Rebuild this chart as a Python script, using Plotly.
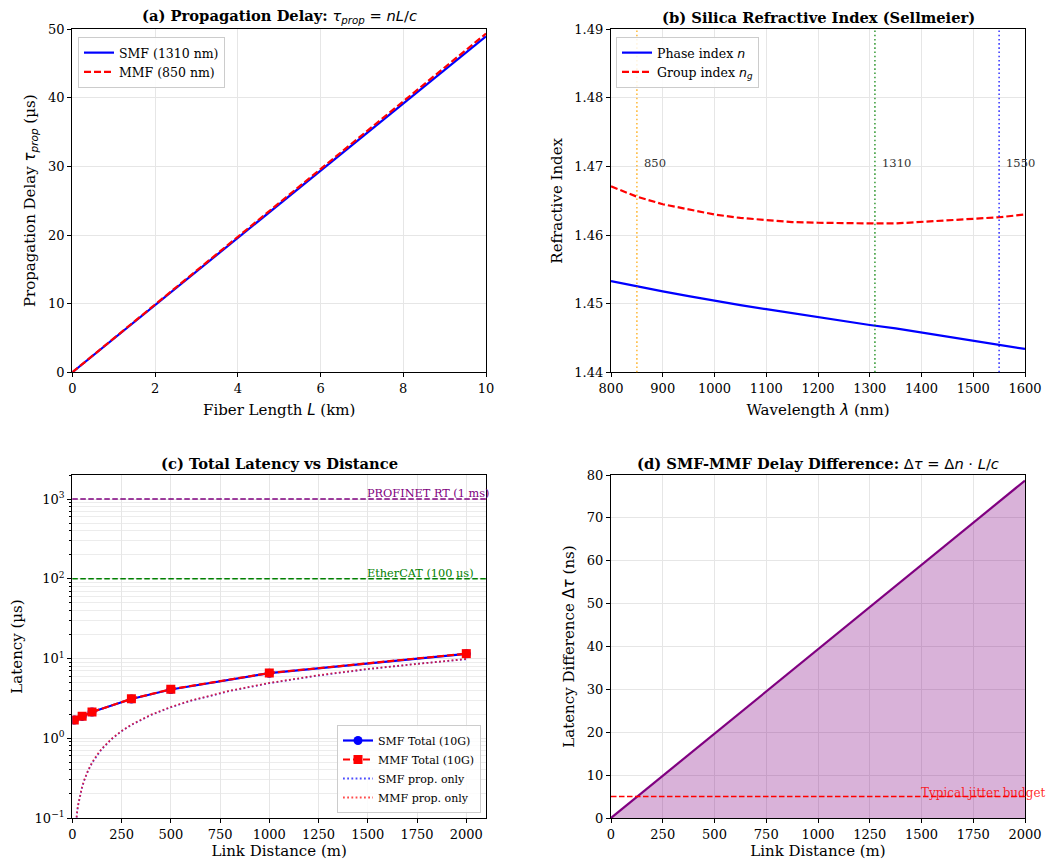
import math
import plotly.graph_objects as go

# ---------------- data ----------------
# (a) propagation delay vs fiber length
fiber_len_km = [0, 10]
smf_delay_us = [0.0, 48.97]
mmf_delay_us = [0.0, 49.37]

# (b) silica refractive index (Sellmeier)
wavelength_nm = [800, 850, 900, 950, 1000, 1050, 1100, 1150, 1200, 1250,
                 1300, 1350, 1400, 1450, 1500, 1550, 1600]
phase_index = [1.4533, 1.4525, 1.4518, 1.4511, 1.4504, 1.4498, 1.4492, 1.4486,
               1.4481, 1.4475, 1.4469, 1.4464, 1.4458, 1.4452, 1.4446, 1.4440, 1.4434]
group_index = [1.4671, 1.4656, 1.4645, 1.4637, 1.4630, 1.4625, 1.4622, 1.4619,
               1.4618, 1.4617, 1.4617, 1.4617, 1.4619, 1.4621, 1.4623, 1.4626, 1.4630]
marker_wl = [850, 1310, 1550]
marker_wl_labels = ["850", "1310", "1550"]
marker_wl_colors = ["rgba(255,165,0,0.75)", "rgba(0,128,0,0.75)", "rgba(0,0,255,0.75)"]

# (c) total latency vs distance
link_pts_m = [10, 50, 100, 300, 500, 1000, 2000]
smf_total_us = [1.69, 1.88, 2.13, 3.11, 4.09, 6.54, 11.44]
mmf_total_us = [1.69, 1.89, 2.13, 3.12, 4.11, 6.58, 11.51]
prop_dist_m = [10, 15, 20, 25, 30, 40, 50, 60, 80, 100, 125, 150, 200, 250, 300,
               400, 500, 600, 800, 1000, 1250, 1500, 1750, 2000]
smf_prop_us = [0.0490, 0.0735, 0.0980, 0.1224, 0.1469, 0.1959, 0.2449, 0.2939,
               0.3918, 0.4898, 0.6122, 0.7346, 0.9795, 1.224, 1.469, 1.959, 2.449,
               2.939, 3.918, 4.898, 6.122, 7.346, 8.571, 9.795]
mmf_prop_us = [0.0494, 0.0741, 0.0987, 0.1234, 0.1481, 0.1975, 0.2468, 0.2962,
               0.3949, 0.4937, 0.6171, 0.7405, 0.9874, 1.234, 1.481, 1.975, 2.468,
               2.962, 3.949, 4.937, 6.171, 7.405, 8.639, 9.874]
thresholds_us = [1000, 100]
threshold_labels = ["PROFINET RT (1 ms)", "EtherCAT (100 µs)"]
threshold_colors = ["purple", "green"]

# (d) SMF-MMF delay difference
diff_dist_m = [0, 2000]
diff_ns = [0.0, 78.7]
jitter_budget_ns = 5
jitter_label = "Typical jitter budget"

# ---------------- styling ----------------
SERIF = "DejaVu Serif"
SANS = "DejaVu Sans"
GRID = "#e6e6e6"
TICK_FONT = dict(family=SERIF, size=13, color="black")
LABEL_FONT = dict(family=SERIF, size=15, color="black")

# page body has an 8px margin: figure is 1040x852 drawn at (8, 8)
W, H, OFF = 1040, 852, 8


def px_x(px):
    return (px - OFF) / W


def px_y(py):
    return 1 - (py - OFF) / H


XD_L = [px_x(72.3), px_x(486)]
XD_R = [px_x(611), px_x(1025)]
YD_T = [px_y(372.3), px_y(29.3)]
YD_B = [px_y(818), px_y(475)]


def m(s):
    return f"<span style='font-family:{SANS}'>{s}</span>"


def axis(domain, anchor, title, rng, standoff, **kw):
    d = dict(domain=domain, anchor=anchor, range=rng, showline=True, mirror=True,
             linecolor="black", linewidth=1.3, ticks="outside", ticklen=4,
             tickwidth=1, tickcolor="black", showgrid=True, gridcolor=GRID,
             gridwidth=1, zeroline=False, tickfont=TICK_FONT,
             title=dict(text=title, font=LABEL_FONT, standoff=standoff),
             automargin=False)
    d.update(kw)
    return d


fig = go.Figure()

# (a)
fig.add_trace(go.Scatter(x=fiber_len_km, y=smf_delay_us, mode="lines",
                         line=dict(color="blue", width=2.2), name="SMF (1310 nm)",
                         xaxis="x", yaxis="y", legend="legend"))
fig.add_trace(go.Scatter(x=fiber_len_km, y=mmf_delay_us, mode="lines",
                         line=dict(color="red", width=2.2, dash="7px,3px"),
                         name="MMF (850 nm)", xaxis="x", yaxis="y", legend="legend"))

# (b)
fig.add_trace(go.Scatter(x=wavelength_nm, y=phase_index, mode="lines",
                         line=dict(color="blue", width=2.2),
                         name="Phase index " + m("<i>n</i>"),
                         xaxis="x2", yaxis="y2", legend="legend2"))
fig.add_trace(go.Scatter(x=wavelength_nm, y=group_index, mode="lines",
                         line=dict(color="red", width=2.2, dash="7px,3px"),
                         name="Group index " + m("<i>n</i><sub><i>g</i></sub>"),
                         xaxis="x2", yaxis="y2", legend="legend2"))

# (c)
fig.add_trace(go.Scatter(x=link_pts_m, y=smf_total_us, mode="lines+markers",
                         line=dict(color="blue", width=2.2),
                         marker=dict(symbol="circle", size=9, color="blue"),
                         name="SMF Total (10G)", xaxis="x3", yaxis="y3", legend="legend3"))
fig.add_trace(go.Scatter(x=link_pts_m, y=mmf_total_us, mode="lines+markers",
                         line=dict(color="red", width=2.2, dash="7px,3px"),
                         marker=dict(symbol="square", size=9, color="red"),
                         name="MMF Total (10G)", xaxis="x3", yaxis="y3", legend="legend3"))
fig.add_trace(go.Scatter(x=prop_dist_m, y=smf_prop_us, mode="lines",
                         line=dict(color="rgba(0,0,255,0.7)", width=1.8, dash="1.8px,2.4px"),
                         name="SMF prop. only", xaxis="x3", yaxis="y3", legend="legend3"))
fig.add_trace(go.Scatter(x=prop_dist_m, y=mmf_prop_us, mode="lines",
                         line=dict(color="rgba(255,0,0,0.7)", width=1.8, dash="1.8px,2.4px"),
                         name="MMF prop. only", xaxis="x3", yaxis="y3", legend="legend3"))

# (d)
fig.add_trace(go.Scatter(x=diff_dist_m, y=diff_ns, mode="lines", fill="tozeroy",
                         fillcolor="rgba(128,0,128,0.3)",
                         line=dict(color="purple", width=2.2), showlegend=False,
                         xaxis="x4", yaxis="y4"))

shapes = []
annotations = []

# vertical reference lines in (b)
for wl, lab, col in zip(marker_wl, marker_wl_labels, marker_wl_colors):
    shapes.append(dict(type="line", xref="x2", yref="y2 domain", x0=wl, x1=wl, y0=0, y1=1,
                       line=dict(color=col, width=1.6, dash="1.6px,2.6px"), layer="above"))
    annotations.append(dict(xref="x2", yref="y2", x=wl + 10, y=1.4705, text=lab,
                            showarrow=False, xanchor="left", yanchor="middle",
                            font=dict(family=SERIF, size=11.5, color="#333333")))

# horizontal thresholds in (c)  (annotation y on a log axis is given in log10 units)
for thr, lab, col in zip(thresholds_us, threshold_labels, threshold_colors):
    shapes.append(dict(type="line", xref="x3 domain", yref="y3", x0=0, x1=1, y0=thr, y1=thr,
                       line=dict(color=col, width=1.6, dash="5.5px,2.5px"), layer="above"))
    annotations.append(dict(xref="x3", yref="y3", x=1500, y=math.log10(thr), text=lab,
                            showarrow=False, xanchor="left", yanchor="bottom", yshift=-3,
                            xshift=-3, font=dict(family=SERIF, size=11.3, color=col)))

# jitter budget in (d)
shapes.append(dict(type="line", xref="x4 domain", yref="y4", x0=0, x1=1,
                   y0=jitter_budget_ns, y1=jitter_budget_ns,
                   line=dict(color="red", width=1.6, dash="5.5px,2.5px"), layer="above"))
annotations.append(dict(xref="x4", yref="y4", x=1500, y=jitter_budget_ns, text=jitter_label,
                        showarrow=False, xanchor="left", yanchor="bottom", yshift=-5, xshift=-3,
                        font=dict(family=SERIF, size=12, color="rgba(255,0,0,0.85)")))

# subplot titles
titles = [
    ("<b>(a) Propagation Delay:</b> " + m("<i>τ</i><sub><i>prop</i></sub> = <i>nL</i>/<i>c</i>"), XD_L, YD_T),
    ("<b>(b) Silica Refractive Index (Sellmeier)</b>", XD_R, YD_T),
    ("<b>(c) Total Latency vs Distance</b>", XD_L, YD_B),
    ("<b>(d) SMF-MMF Delay Difference:</b> " + m("Δ<i>τ</i> = Δ<i>n</i> · <i>L</i>/<i>c</i>"), XD_R, YD_B),
]
for txt, xd, yd in titles:
    annotations.append(dict(xref="paper", yref="paper", x=(xd[0] + xd[1]) / 2, y=yd[1],
                            text=txt, showarrow=False, xanchor="center", yanchor="bottom",
                            yshift=1, font=dict(family=SERIF, size=14.7, color="black")))

minor_log = [k * 10 ** e for e in range(-1, 4) for k in range(2, 10)]

LEG = dict(bgcolor="rgba(255,255,255,0.85)", bordercolor="#cccccc", borderwidth=1,
           itemwidth=30, tracegroupgap=0)

fig.update_layout(
    width=W, height=H, autosize=False,
    margin=dict(l=0, r=0, t=0, b=0),
    paper_bgcolor="white", plot_bgcolor="white",
    font=dict(family=SERIF, color="black"),
    xaxis=axis(XD_L, "y", "Fiber Length " + m("<i>L</i>") + " (km)", [0, 10], 9, dtick=2),
    yaxis=axis(YD_T, "x", "Propagation Delay " + m("<i>τ</i><sub><i>prop</i></sub>") + " (µs)",
               [0, 50], 8, dtick=10),
    xaxis2=axis(XD_R, "y2", "Wavelength " + m("<i>λ</i>") + " (nm)", [800, 1600], 9, dtick=100),
    yaxis2=axis(YD_T, "x2", "Refractive Index", [1.44, 1.49], 8, dtick=0.01, tickformat=".2f"),
    xaxis3=axis(XD_L, "y3", "Link Distance (m)", [0, 2100], 9, dtick=250),
    yaxis3=axis(YD_B, "x3", "Latency (µs)", [-1, 3.30103], 8, type="log",
                tickmode="array", tickvals=[0.1, 1, 10, 100, 1000],
                ticktext=["10<sup>−1</sup>", "10<sup>0</sup>", "10<sup>1</sup>",
                          "10<sup>2</sup>", "10<sup>3</sup>"],
                minor=dict(tickmode="array", tickvals=minor_log, ticks="outside", ticklen=2,
                           tickcolor="black", showgrid=True, gridcolor="#ececec")),
    xaxis4=axis(XD_R, "y4", "Link Distance (m)", [0, 2000], 9, dtick=250),
    yaxis4=axis(YD_B, "x4", "Latency Difference " + m("Δ<i>τ</i>") + " (ns)", [0, 80], 8, dtick=10),
    legend=dict(x=px_x(78), y=px_y(37), xanchor="left", yanchor="top",
                font=dict(family=SERIF, size=12.5), **LEG),
    legend2=dict(x=px_x(616), y=px_y(37), xanchor="left", yanchor="top",
                 font=dict(family=SERIF, size=12.5), **LEG),
    legend3=dict(x=px_x(337), y=px_y(813), xanchor="left", yanchor="bottom",
                 font=dict(family=SERIF, size=11), **LEG),
    shapes=shapes,
    annotations=annotations,
)

fig.write_html("out.html")
